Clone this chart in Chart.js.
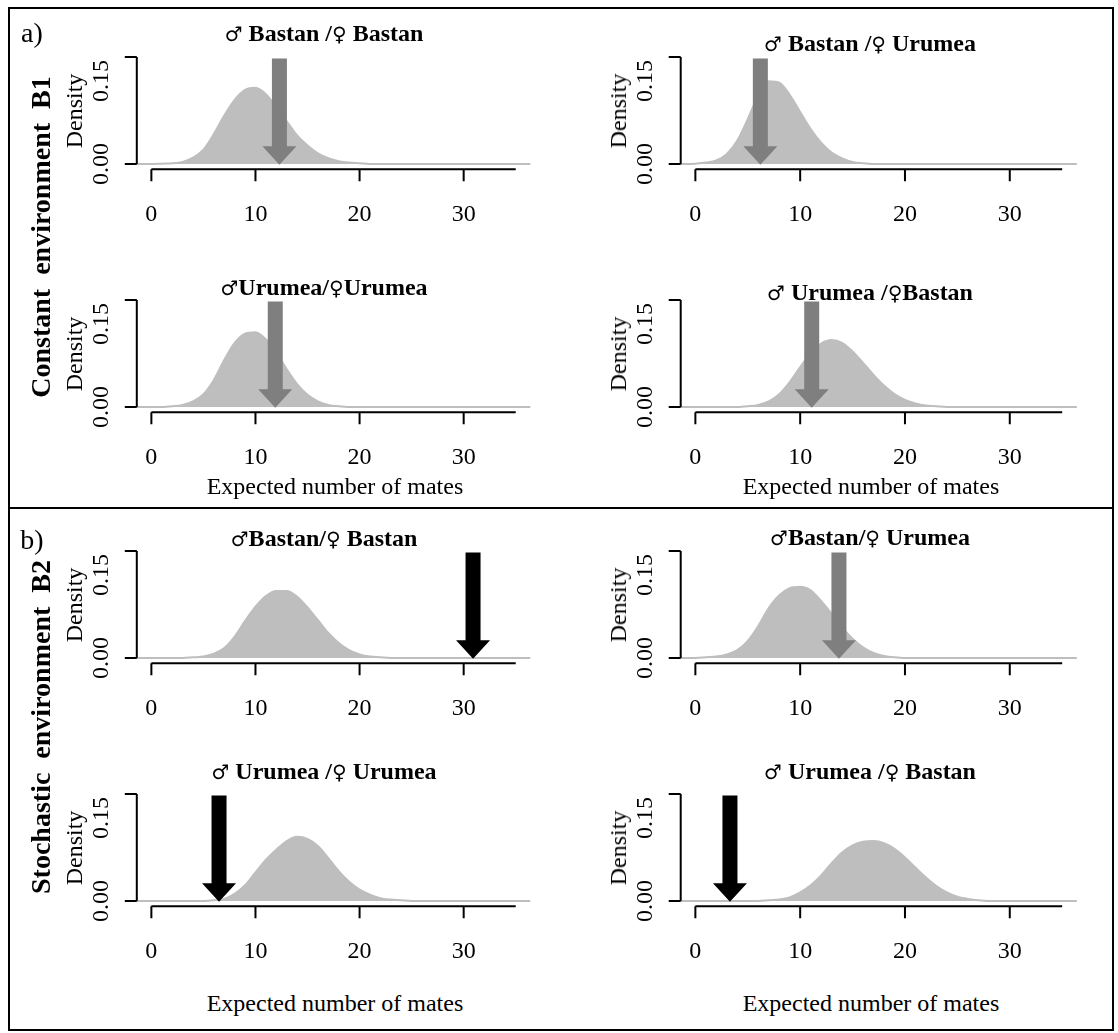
<!DOCTYPE html>
<html>
<head>
<meta charset="utf-8">
<script src="https://cdn.jsdelivr.net/npm/chart.js@4.4.0/dist/chart.umd.min.js"></script>
<style>
  body { margin: 0; background: #fff; width: 1118px; height: 1033px; position: relative; overflow: hidden; }
  canvas { position: absolute; }
  .frame { position: absolute; left: 8px; top: 7px; width: 1106px; height: 1024px; border: 2px solid #000; box-sizing: border-box; }
  .divider { position: absolute; left: 8px; top: 507px; width: 1106px; height: 2px; background: #000; }
  .txt { position: absolute; white-space: nowrap; line-height: 1; font-family: "Liberation Serif", "Times New Roman", serif; color: #000; }
  .title { font-size: 24px; font-weight: bold; }
  .sym { font-family: "DejaVu Sans", sans-serif; font-weight: normal; font-size: 20px; }
  .section { font-size: 28px; font-weight: bold; }
  .tag { font-size: 28px; }
  .axlab { font-size: 24px; }
</style>
</head>
<body>
<div class="frame"></div>
<div class="divider"></div>

<script>
// x positions where the densities were read (number of mates)
const xGrid = [-2, -1, 0, 1, 2, 3, 4, 5, 6, 7, 8, 9, 10, 11, 12, 13, 14, 15, 16, 17, 18, 19,
               20, 21, 22, 23, 24, 25, 26, 27, 28, 29, 30, 31, 32, 33, 34, 35, 36, 37];

// constant environment B1
const constBB = [0, 0, 0, 0.0005, 0.001, 0.003, 0.009, 0.02, 0.042, 0.068, 0.09, 0.104, 0.107, 0.098, 0.08, 0.06, 0.04, 0.026, 0.015, 0.008, 0.004, 0.002,
                 0.001, 0, 0, 0, 0, 0, 0, 0, 0, 0, 0, 0, 0, 0, 0, 0, 0, 0];
const constBU = [0, 0, 0.0005, 0.002, 0.005, 0.014, 0.033, 0.063, 0.096, 0.116, 0.114, 0.097, 0.073, 0.049, 0.03, 0.016, 0.008, 0.003, 0.001, 0, 0, 0,
                 0, 0, 0, 0, 0, 0, 0, 0, 0, 0, 0, 0, 0, 0, 0, 0, 0, 0];
const constUU = [0, 0, 0, 0, 0.001, 0.003, 0.008, 0.018, 0.038, 0.066, 0.09, 0.103, 0.105, 0.095, 0.076, 0.053, 0.032, 0.017, 0.008, 0.003, 0.001, 0,
                 0, 0, 0, 0, 0, 0, 0, 0, 0, 0, 0, 0, 0, 0, 0, 0, 0, 0];
const constUB = [0, 0, 0, 0, 0, 0, 0, 0.001, 0.003, 0.008, 0.018, 0.035, 0.056, 0.075, 0.089, 0.094, 0.09, 0.078, 0.062, 0.045, 0.03, 0.018,
                 0.01, 0.005, 0.002, 0.001, 0, 0, 0, 0, 0, 0, 0, 0, 0, 0, 0, 0, 0, 0];
// stochastic environment B2
const stochBB = [0, 0, 0, 0, 0, 0, 0.001, 0.002, 0.006, 0.014, 0.03, 0.052, 0.072, 0.087, 0.094, 0.094, 0.086, 0.071, 0.053, 0.035, 0.021, 0.011,
                 0.005, 0.002, 0.001, 0, 0, 0, 0, 0, 0, 0, 0, 0, 0, 0, 0, 0, 0, 0];
const stochBU = [0, 0, 0, 0.001, 0.002, 0.005, 0.011, 0.024, 0.045, 0.07, 0.088, 0.098, 0.1, 0.095, 0.08, 0.062, 0.043, 0.027, 0.015, 0.007, 0.003, 0.001,
                 0, 0, 0, 0, 0, 0, 0, 0, 0, 0, 0, 0, 0, 0, 0, 0, 0, 0];
const stochUU = [0, 0, 0, 0, 0, 0, 0, 0, 0.001, 0.003, 0.01, 0.022, 0.04, 0.058, 0.072, 0.084, 0.09, 0.087, 0.077, 0.06, 0.042, 0.027,
                 0.016, 0.009, 0.004, 0.002, 0.001, 0, 0, 0, 0, 0, 0, 0, 0, 0, 0, 0, 0, 0];
const stochUB = [0, 0, 0, 0, 0, 0, 0, 0, 0, 0.001, 0.002, 0.005, 0.012, 0.022, 0.036, 0.053, 0.068, 0.078, 0.083, 0.084, 0.081, 0.073,
                 0.061, 0.047, 0.033, 0.021, 0.012, 0.006, 0.003, 0.001, 0, 0, 0, 0, 0, 0, 0, 0, 0, 0];

// observed value marked by the arrow in each panel
const observed = [12.3, 6.2, 11.9, 11.1, 30.9, 13.7, 6.5, 3.3];

const panelTitles = [
  '♂ Bastan /♀ Bastan', '♂ Bastan /♀ Urumea',
  '♂Urumea/♀Urumea', '♂ Urumea /♀Bastan',
  '♂Bastan/♀ Bastan', '♂Bastan/♀ Urumea',
  '♂ Urumea /♀ Urumea', '♂ Urumea /♀ Bastan'
];
const densities = [constBB, constBU, constUU, constUB, stochBB, stochBU, stochUU, stochUB];

const xTicks = [0, 10, 20, 30];
const xAxisEnd = 35;
const yTicks = [0, 0.15];
const yTickLabels = ['0.00', '0.15'];
const xTitle = 'Expected number of mates';
const yTitle = 'Density';

// styling / layout
const arrowColors = ['#7f7f7f', '#7f7f7f', '#7f7f7f', '#7f7f7f', '#000000', '#7f7f7f', '#000000', '#000000'];
const yLabelShift = [0, 24];
const xMin = -1.4, xMax = 36.4, yMin = -0.006, yMax = 0.156;
const colAxisX = [136.8, 680.7];
const colUnit = [10.41, 10.48];
const rowBase = [164, 407, 658, 901];
const yPx = 713;
const titleX = [324, 870];
const titleY = [[33, 43], [287, 292], [538, 537], [771, 771]];
const xlabX = [335, 871];
const xlabY = { 1: 486, 3: 1003 };

function addText(html, cx, cy, cls, rot) {
  const d = document.createElement('div');
  d.className = 'txt ' + cls;
  d.innerHTML = html;
  d.style.left = cx + 'px';
  d.style.top = cy + 'px';
  d.style.transform = 'translate(-50%,-50%)' + (rot ? ' rotate(-90deg)' : '');
  document.body.appendChild(d);
}

// arrow at the observed value + R-style axes
const rAxes = {
  id: 'rAxes',
  afterDatasetsDraw(chart) {
    const { ctx, scales: { x, y } } = chart;
    const o = chart.options.plugins.rAxes;
    const cx = x.getPixelForValue(o.value);
    const top = y.getPixelForValue(0.148);
    const headTop = y.getPixelForValue(0.025);
    const tip = y.getPixelForValue(-0.001);
    ctx.save();
    ctx.fillStyle = o.color;
    ctx.beginPath();
    ctx.moveTo(cx - 7.5, top);
    ctx.lineTo(cx + 7.5, top);
    ctx.lineTo(cx + 7.5, headTop);
    ctx.lineTo(cx + 17, headTop);
    ctx.lineTo(cx, tip);
    ctx.lineTo(cx - 17, headTop);
    ctx.lineTo(cx - 7.5, headTop);
    ctx.closePath();
    ctx.fill();
    ctx.restore();
  },
  afterDraw(chart) {
    const { ctx, chartArea, scales: { x, y } } = chart;
    ctx.save();
    ctx.strokeStyle = '#000';
    ctx.lineWidth = 2;
    ctx.fillStyle = '#000';
    ctx.font = '24px "Liberation Serif", "Times New Roman", serif';
    ctx.textAlign = 'center';
    ctx.textBaseline = 'alphabetic';

    const ax = chartArea.left;
    ctx.beginPath();
    ctx.moveTo(ax, y.getPixelForValue(yTicks[0]));
    ctx.lineTo(ax, y.getPixelForValue(yTicks[yTicks.length - 1]));
    yTicks.forEach(v => {
      const p = y.getPixelForValue(v);
      ctx.moveTo(ax, p);
      ctx.lineTo(ax - 12, p);
    });
    const ay = chartArea.bottom + 1;
    ctx.moveTo(x.getPixelForValue(xTicks[0]), ay);
    ctx.lineTo(x.getPixelForValue(xAxisEnd), ay);
    xTicks.forEach(v => {
      const p = x.getPixelForValue(v);
      ctx.moveTo(p, ay);
      ctx.lineTo(p, ay + 12);
    });
    ctx.stroke();

    xTicks.forEach(v => {
      ctx.fillText(String(v), x.getPixelForValue(v), ay + 52);
    });
    yTicks.forEach((v, i) => {
      ctx.save();
      ctx.translate(ax - 37, y.getPixelForValue(v) + yLabelShift[i]);
      ctx.rotate(-Math.PI / 2);
      ctx.fillText(yTickLabels[i], 0, 8);
      ctx.restore();
    });
    ctx.restore();
  }
};

function makePanel(i) {
  const row = Math.floor(i / 2), col = i % 2;
  const unit = colUnit[col];
  const left = colAxisX[col], right = left + (xMax - xMin) * unit;
  const base = rowBase[row];
  const top = base - yMax * yPx, bottom = base - yMin * yPx;

  const cLeft = Math.round(left - 100);
  const cTop = Math.round(top - 30);
  const cRight = Math.min(1118, Math.round(right + 4));
  const cBottom = Math.round(base + 70);

  const canvas = document.createElement('canvas');
  canvas.width = cRight - cLeft;
  canvas.height = cBottom - cTop;
  canvas.style.left = cLeft + 'px';
  canvas.style.top = cTop + 'px';
  document.body.appendChild(canvas);

  const pts = xGrid.map((xv, k) => ({ x: xv, y: densities[i][k] }));

  new Chart(canvas.getContext('2d'), {
    type: 'line',
    data: {
      datasets: [{
        data: pts,
        fill: 'origin',
        backgroundColor: '#bebebe',
        borderColor: '#bebebe',
        borderWidth: 2,
        pointRadius: 0,
        cubicInterpolationMode: 'monotone'
      }]
    },
    options: {
      responsive: false,
      animation: false,
      events: [],
      layout: {
        padding: {
          left: left - cLeft,
          top: top - cTop,
          right: cRight - right,
          bottom: cBottom - bottom
        }
      },
      scales: {
        x: { type: 'linear', min: xMin, max: xMax, display: false },
        y: { min: yMin, max: yMax, display: false }
      },
      plugins: {
        legend: { display: false },
        tooltip: { enabled: false },
        rAxes: { value: observed[i], color: arrowColors[i] }
      }
    },
    plugins: [rAxes]
  });

  addText(panelTitles[i].replace(/([♂♀])/g, '<span class="sym">$1</span>'),
          titleX[col], titleY[row][col], 'title');
  addText(yTitle, left - 63, base - 0.075 * yPx, 'axlab', true);
  if (xlabY[row]) addText(xTitle, xlabX[col], xlabY[row], 'axlab');
}

for (let i = 0; i < 8; i++) makePanel(i);

addText('a)', 32, 33, 'tag');
addText('b)', 32, 540, 'tag');
addText('Constant&nbsp; environment&nbsp; B1', 41, 237, 'section', true);
addText('Stochastic&nbsp; environment&nbsp; B2', 41, 727, 'section', true);
</script>
</body>
</html>
